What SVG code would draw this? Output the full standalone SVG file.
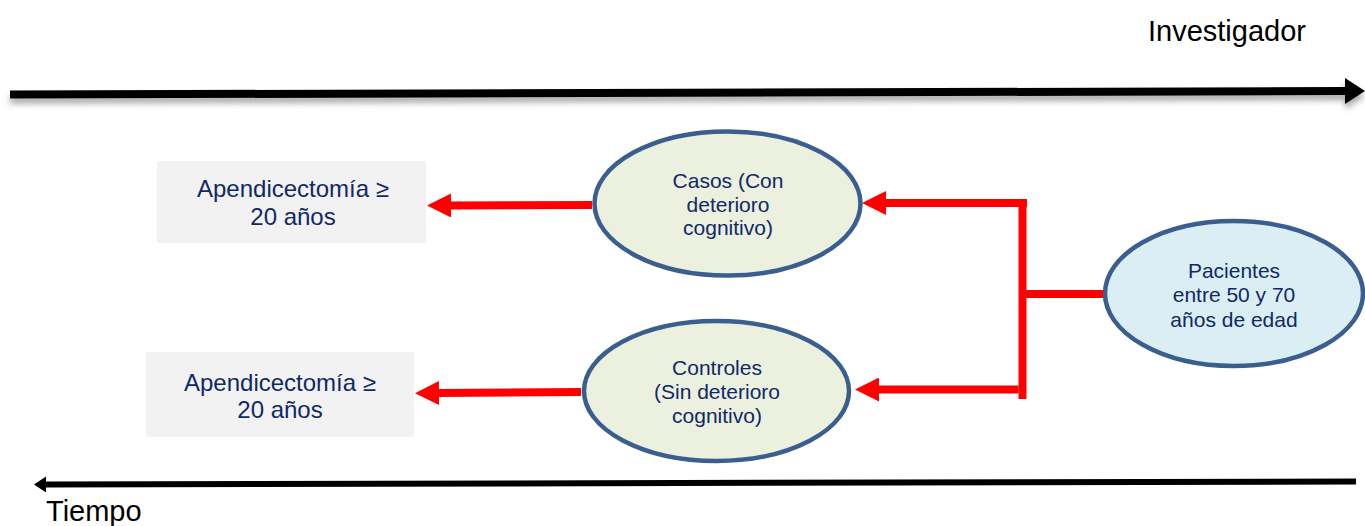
<svg xmlns="http://www.w3.org/2000/svg" width="1365" height="526" viewBox="0 0 1365 526">
  <style>
    .lbl { font-family: "Liberation Sans", Arial, sans-serif; fill: #112868; text-anchor: middle; }
    .axis { font-family: "Liberation Sans", Arial, sans-serif; fill: #000; }
    .box { fill: #f2f2f2; stroke: none; }
    .ell { stroke: #3a5e8e; stroke-width: 4.5; }
    .red { stroke: #ff0000; stroke-width: 8; fill: none; }
  </style>
  <defs>
    <marker id="redHead" viewBox="0 0 24 24" refX="1" refY="12" markerWidth="24" markerHeight="24" markerUnits="userSpaceOnUse" orient="auto">
      <path d="M0,0 L24,12 L0,24 z" fill="#ff0000"/>
    </marker>
    <marker id="blkHeadTop" viewBox="0 0 20 26" refX="1" refY="13" markerWidth="20" markerHeight="26" markerUnits="userSpaceOnUse" orient="auto">
      <path d="M0,0 L20,13 L0,26 z" fill="#000"/>
    </marker>
    <marker id="blkHeadBot" viewBox="0 0 12 16" refX="1" refY="8" markerWidth="12" markerHeight="16" markerUnits="userSpaceOnUse" orient="auto">
      <path d="M0,0 L12,8 L0,16 z" fill="#000"/>
    </marker>
    <filter id="shadow" filterUnits="userSpaceOnUse" x="0" y="60" width="1365" height="70">
      <feDropShadow dx="0" dy="5" stdDeviation="3" flood-color="#000" flood-opacity="0.35"/>
    </filter>
  </defs>

  <g id="axis-investigador">
    <line x1="10" y1="94.5" x2="1346" y2="91" stroke="#000" stroke-width="8" marker-end="url(#blkHeadTop)" filter="url(#shadow)"/>
    <text class="axis" x="1148" y="41" font-size="29">Investigador</text>
  </g>

  <g id="axis-tiempo">
    <line x1="1356" y1="481.5" x2="45" y2="484.5" stroke="#000" stroke-width="6" marker-end="url(#blkHeadBot)"/>
    <text class="axis" x="46" y="521" font-size="29">Tiempo</text>
  </g>

  <g id="connectors">
    <line class="red" x1="592" y1="205" x2="450" y2="205.5" marker-end="url(#redHead)"/>
    <line class="red" x1="581" y1="392" x2="438" y2="393" marker-end="url(#redHead)"/>
    <line class="red" x1="1027" y1="203" x2="885" y2="203" marker-end="url(#redHead)"/>
    <line class="red" x1="1018.5" y1="389.5" x2="878" y2="389.5" marker-end="url(#redHead)"/>
    <line class="red" x1="1022.5" y1="207" x2="1022.5" y2="399"/>
    <line class="red" x1="1026" y1="294" x2="1105" y2="294"/>
  </g>

  <g id="apend1">
    <rect class="box" x="157" y="161" width="269" height="82"/>
    <text class="lbl" font-size="24"><tspan x="293" y="197">Apendicectomía ≥</tspan><tspan x="293" y="225">20 años</tspan></text>
  </g>

  <g id="apend2">
    <rect class="box" x="146" y="352" width="268" height="85"/>
    <text class="lbl" font-size="24"><tspan x="280" y="391">Apendicectomía ≥</tspan><tspan x="280" y="418">20 años</tspan></text>
  </g>

  <g id="casos">
    <ellipse class="ell" cx="727.5" cy="203.5" rx="133" ry="72" fill="#ebf1de"/>
    <text class="lbl" font-size="21"><tspan x="728" y="188">Casos (Con</tspan><tspan x="728" y="211.5">deterioro</tspan><tspan x="728" y="235">cognitivo)</tspan></text>
  </g>

  <g id="controles">
    <ellipse class="ell" cx="716.5" cy="391" rx="132.5" ry="70" fill="#ebf1de"/>
    <text class="lbl" font-size="21"><tspan x="717" y="375">Controles</tspan><tspan x="717" y="399">(Sin deterioro</tspan><tspan x="717" y="422.5">cognitivo)</tspan></text>
  </g>

  <g id="pacientes">
    <ellipse class="ell" cx="1234" cy="293.5" rx="129" ry="72.5" fill="#dbeef4"/>
    <text class="lbl" font-size="21"><tspan x="1234" y="278">Pacientes</tspan><tspan x="1234" y="302">entre 50 y 70</tspan><tspan x="1234" y="326.5">años de edad</tspan></text>
  </g>
</svg>
